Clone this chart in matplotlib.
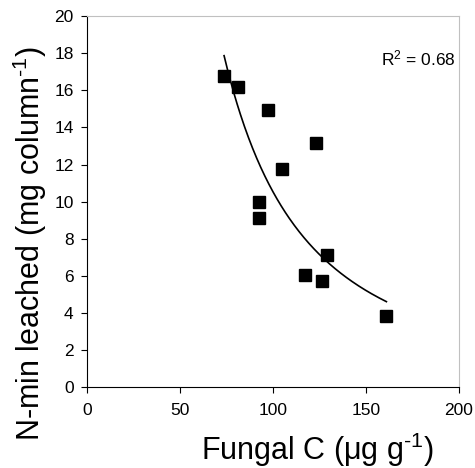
import numpy as np
import matplotlib
matplotlib.use("Agg")
import matplotlib.pyplot as plt

plt.rcParams['font.family'] = ['Liberation Sans', 'DejaVu Sans']
plt.rcParams['mathtext.fontset'] = 'custom'
plt.rcParams['mathtext.rm'] = 'Liberation Sans'
plt.rcParams['mathtext.it'] = 'Liberation Sans'
plt.rcParams['mathtext.default'] = 'regular'

fungal_c = [73.8, 81.3, 97.2, 123.4, 104.9, 92.4, 92.4, 129.3, 117.5, 126.4, 161.0]
n_min = [16.77, 16.2, 14.92, 13.14, 11.74, 10.0, 9.12, 7.14, 6.06, 5.71, 3.84]
x_ticks = [0, 50, 100, 150, 200]
y_ticks = [0, 2, 4, 6, 8, 10, 12, 14, 16, 18, 20]
r2_text = r"R$^\mathregular{2}$ = 0.68"
x_label = r"Fungal C (μg g$^{\text{-1}}$)"
y_label = r"N-min leached (mg column$^{\text{-1}}$)"

fig = plt.figure(figsize=(4.75, 4.68), dpi=100)
ax = fig.add_axes([86.7/475, 1-387.3/468, (459-86.7)/475, (387.3-16)/468])

x = np.array(fungal_c)
y = np.array(n_min)
b, lna = np.polyfit(np.log(x), np.log(y), 1)
xs = np.linspace(x.min(), x.max(), 200)
ax.plot(xs, np.exp(lna) * xs**b, color='black', lw=1.2)
ax.plot(x, y, 's', color='black', markersize=8, zorder=3)

ax.set_xlim(0, 200)
ax.set_ylim(0, 20)
ax.set_xticks(x_ticks)
ax.set_yticks(y_ticks)
ax.tick_params(direction='out', length=4.5, width=0.8, labelsize=12.5, color='black')
ax.tick_params(axis='x', pad=7)
ax.tick_params(axis='y', pad=5)
for s in ['left', 'bottom']:
    ax.spines[s].set_color('black')
    ax.spines[s].set_linewidth(0.8)
for s in ['top', 'right']:
    ax.spines[s].set_color('#c0c0c0')
    ax.spines[s].set_linewidth(0.8)

ax.text(0.99, 0.887, r2_text, transform=ax.transAxes, ha='right', va='center', fontsize=12.5)

fig.text(317/475, 1-450/468, x_label, ha='center', va='center', fontsize=22)
fig.text(30/475, 1-244/468, y_label, ha='center', va='center', rotation=90, fontsize=22)

fig.savefig("out.png", dpi=100)
